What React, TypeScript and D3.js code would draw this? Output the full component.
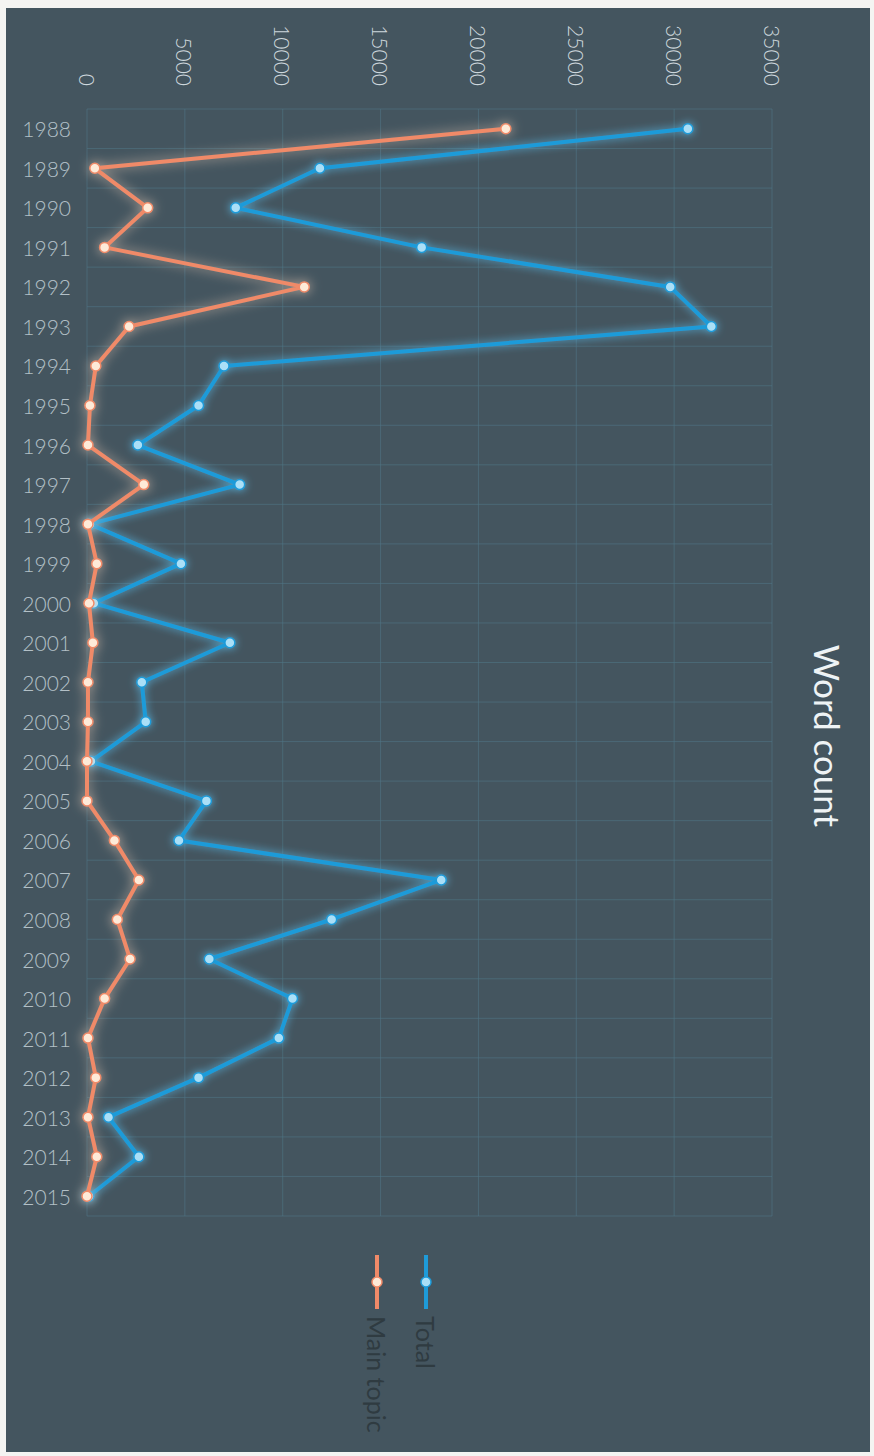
import React from "react";
import * as d3 from "d3";

const years: string[] = [
  "1988","1989","1990","1991","1992","1993","1994","1995","1996","1997",
  "1998","1999","2000","2001","2002","2003","2004","2005","2006","2007",
  "2008","2009","2010","2011","2012","2013","2014","2015",
];
const totalValues: number[] = [
  30700, 11900, 7600, 17100, 29800, 31900, 7000, 5700, 2600, 7800,
  150, 4800, 350, 7300, 2800, 3000, 200, 6100, 4700, 18100,
  12500, 6250, 10500, 9800, 5700, 1100, 2650, 100,
];
const mainTopicValues: number[] = [
  21400, 400, 3100, 900, 11100, 2150, 450, 150, 50, 2900,
  50, 500, 100, 300, 50, 50, 0, 0, 1400, 2650,
  1550, 2200, 900, 50, 450, 50, 500, 0,
];
const valueTicks: number[] = [0, 5000, 10000, 15000, 20000, 25000, 30000, 35000];
const seriesNames: string[] = ["Total", "Main topic"];
const chartTitle = "Word count";

const W = 874;
const H = 1456;
const BG = "#44555f";
const GRID = "#4f7585";
const BLUE = "#1e9bd9";
const BLUE_FILL = "#aadff7";
const ORANGE = "#f08a68";
const ORANGE_FILL = "#feead8";
const FONT = "Lato, 'Open Sans', sans-serif";

export default function App() {
  const x = d3.scaleLinear().domain([0, 35000]).range([87, 772]);
  const yBand = d3.scaleBand<string>().domain(years).range([109, 1216]);
  const y = (yr: string) => (yBand(yr) as number) + yBand.bandwidth() / 2;

  const line = d3
    .line<number>()
    .x((d) => x(d))
    .y((_, i) => y(years[i]));

  const series = [
    { name: seriesNames[0], values: totalValues, color: BLUE, fill: BLUE_FILL, glow: "glowBlue" },
    { name: seriesNames[1], values: mainTopicValues, color: ORANGE, fill: ORANGE_FILL, glow: "glowOrange" },
  ];

  const bounds = yBand.range();
  const boundaries = years.map((yr) => yBand(yr) as number).concat([bounds[1]]);

  const legendX = [426, 377];

  return (
    <svg
      width={W}
      height={H}
      style={{ position: "absolute", left: 0, top: 0, display: "block" }}
      xmlns="http://www.w3.org/2000/svg"
    >
      <defs>
        <filter id="glowBlue" x="-20%" y="-20%" width="140%" height="140%">
          <feGaussianBlur in="SourceGraphic" stdDeviation="4.5" result="b" />
          <feColorMatrix
            in="b"
            type="matrix"
            values="0 0 0 0 0.10  0 0 0 0 0.52  0 0 0 0 0.85  0 0 0 0.9 0"
            result="c"
          />
          <feMerge>
            <feMergeNode in="c" />
            <feMergeNode in="SourceGraphic" />
          </feMerge>
        </filter>
        <filter id="glowOrange" x="-20%" y="-20%" width="140%" height="140%">
          <feGaussianBlur in="SourceGraphic" stdDeviation="6" result="b" />
          <feColorMatrix
            in="b"
            type="matrix"
            values="0 0 0 0 0.95  0 0 0 0 0.68  0 0 0 0 0.52  0 0 0 0.7 0"
            result="c"
          />
          <feMerge>
            <feMergeNode in="c" />
            <feMergeNode in="SourceGraphic" />
          </feMerge>
        </filter>
      </defs>

      <rect x={0} y={0} width={W} height={H} fill="#f4f4f2" />
      <rect x={6} y={8} width={864} height={1444} fill={BG} />

      {/* grid */}
      <g>
        {boundaries.map((by, i) => (
          <line key={"h" + i} x1={x(0)} x2={x(35000)} y1={by} y2={by} stroke={GRID} strokeWidth={1} opacity={0.6} />
        ))}
        {valueTicks.map((v) => (
          <line key={"v" + v} x1={x(v)} x2={x(v)} y1={bounds[0]} y2={bounds[1]} stroke={GRID} strokeWidth={1} opacity={0.6} />
        ))}
      </g>

      {/* value tick labels (rotated) */}
      <g>
        {valueTicks.map((v) => (
          <text
            key={"t" + v}
            transform={`translate(${x(v)},86) rotate(90)`}
            textAnchor="end"
            dominantBaseline="central"
            fontFamily={FONT}
            fontWeight={300}
            fontSize={21}
            fill="#cdd7dc"
          >
            {String(v)}
          </text>
        ))}
      </g>

      {/* year labels */}
      <g>
        {years.map((yr) => (
          <text
            key={"y" + yr}
            x={71}
            y={y(yr)}
            textAnchor="end"
            dominantBaseline="central"
            fontFamily={FONT}
            fontWeight={300}
            fontSize={21}
            fill="#b3c0c7"
          >
            {yr}
          </text>
        ))}
      </g>

      {/* series */}
      {series.map((s) => (
        <g key={s.name} filter={`url(#${s.glow})`}>
          <path d={line(s.values) || ""} fill="none" stroke={s.color} strokeWidth={4} strokeLinejoin="round" />
          {s.values.map((v, i) => (
            <circle key={i} cx={x(v)} cy={y(years[i])} r={5} fill={s.fill} stroke={s.color} strokeWidth={1.5} />
          ))}
        </g>
      ))}

      {/* title */}
      <text
        transform="translate(828,736) rotate(90)"
        textAnchor="middle"
        dominantBaseline="central"
        fontFamily={FONT}
        fontSize={35}
        fill="#eef3f5"
      >
        {chartTitle}
      </text>

      {/* legend */}
      {series.map((s, i) => (
        <g key={"lg" + s.name}>
          <line x1={legendX[i]} x2={legendX[i]} y1={1255} y2={1309} stroke={s.color} strokeWidth={4} />
          <circle cx={legendX[i]} cy={1282} r={5} fill={s.fill} stroke={s.color} strokeWidth={1.5} />
          <text
            transform={`translate(${legendX[i]},1316) rotate(90)`}
            textAnchor="start"
            dominantBaseline="central"
            fontFamily={FONT}
            fontSize={25}
            fill="#2f3b41"
          >
            {s.name}
          </text>
        </g>
      ))}
    </svg>
  );
}
